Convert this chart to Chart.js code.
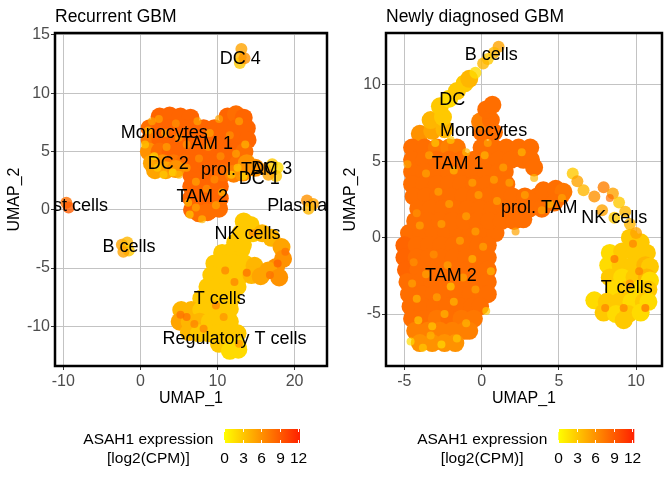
<!DOCTYPE html>
<html>
<head>
<meta charset="utf-8">
<script src="https://cdn.jsdelivr.net/npm/chart.js@4.4.0/dist/chart.umd.min.js"></script>
<style>
  body { margin: 0; background: #fff; }
  #wrap { position: relative; width: 672px; height: 480px; }
  canvas { position: absolute; top: 0; }
</style>
</head>
<body>
<div id="wrap">
  <canvas id="recCanvas" width="336" height="480" style="left:0"></canvas>
  <canvas id="newCanvas" width="336" height="480" style="left:336px"></canvas>
</div>
<script>
const FONT = '"Liberation Sans", Arial, sans-serif';

// ---- Recurrent GBM : cells as [UMAP_1, UMAP_2, ASAH1 log2(CPM)] ----
const recMain = [
  [2.5,8.0,8.5],[3.8,8.1,8.5],[5.2,8.0,8.5],[6.5,7.9,8.5],[11.3,8.0,8.5],[12.4,8.2,8],[13.4,7.9,8.5],
  [1.2,7.0,8],[2.6,7.0,8.5],[4.0,7.0,8.5],[5.4,7.0,8.5],[6.8,7.0,8.5],[8.2,7.0,8.5],[9.6,7.0,8.5],[11.0,7.0,8.5],[12.4,7.0,8.5],[13.8,7.0,8.5],
  [1.2,6.0,7.5],[2.6,6.0,8.5],[4.0,6.0,8.5],[5.4,6.0,8.5],[6.8,6.0,8.5],[8.2,6.0,8.5],[9.6,6.0,8.5],[11.0,6.0,8.5],[12.4,6.0,8.5],[13.9,6.0,8.5],
  [1.1,5.0,6],[2.5,5.0,8],[3.9,5.0,8.5],[5.3,5.0,8.5],[6.7,5.0,8.5],[8.1,5.0,8.5],[9.5,5.0,8.5],[10.9,5.0,8.5],[12.3,5.0,8.5],[13.5,5.0,8],
  [1.5,4.0,5],[2.9,4.0,6],[4.3,4.0,7.5],[5.7,4.0,8],[7.1,4.0,8.5],[8.5,4.0,8.5],[9.9,4.0,8.5],[11.3,4.0,8.5],[12.7,4.0,8],[13.8,4.0,6],
  [1.9,3.4,5],[3.3,3.4,5],[4.6,3.5,6],[10.8,3.2,8],[12.1,3.1,7],[13.3,3.2,6],[14.9,3.6,6]
];
const recTam2 = [
  [6.6,3.0,8.5],[7.9,3.0,8.5],[9.2,3.0,8.5],[10.3,2.8,8.5],
  [6.6,2.0,8.5],[7.9,2.0,8.5],[9.2,2.0,8.5],[10.3,2.0,8.5],
  [6.6,1.0,8.5],[7.9,1.0,8.5],[9.2,1.0,8.5],[10.3,1.0,8.5],
  [6.7,0.0,8.5],[7.9,0.0,8.5],[9.1,0.0,8.5],[10.2,0.1,8],
  [7.6,-0.3,8],[8.7,-0.2,8]
];
const recNk = [
  [13.4,-1.0,3],[14.3,-1.3,3],[13.0,-2.0,3],[14.6,-2.0,3],[15.8,-2.0,4],[17.0,-2.4,4],
  [12.3,-2.8,3],[13.3,-3.0,3],[18.3,-3.2,5],[18.5,-4.2,6],[17.6,-4.9,6],[16.6,-5.2,5],[18.0,-5.8,6]
];
const recT = [
  [10.6,-3.7,3],[11.9,-3.5,3],[13.1,-3.4,3],
  [9.6,-4.6,3],[10.9,-4.6,3],[12.2,-4.6,3],[13.5,-4.6,3],[14.8,-4.8,4],
  [9.2,-5.6,3],[10.5,-5.6,3],[11.8,-5.6,3],[13.1,-5.6,3],[14.4,-5.6,4],[15.6,-5.7,5],
  [8.7,-6.6,3],[10.0,-6.6,3],[11.3,-6.6,3],[12.6,-6.6,3],
  [7.9,-7.6,3],[9.2,-7.6,3],[10.5,-7.6,3],[11.8,-7.6,3],
  [5.3,-8.6,4],[6.6,-8.6,4],[7.9,-8.6,3],[9.2,-8.6,3],[10.5,-8.6,3],[11.6,-8.5,3],
  [5.1,-9.6,5],[6.4,-9.6,4],[7.7,-9.6,4],[9.0,-9.6,3],[10.3,-9.6,3],[11.6,-9.6,3],
  [6.3,-10.5,4],[7.6,-10.6,3],[8.9,-10.6,3],[10.2,-10.6,3],[11.5,-10.6,3],[12.6,-10.6,3],
  [10.2,-11.5,3],[11.4,-11.6,3],[12.6,-11.7,2],[11.6,-12.1,2],[12.7,-12.0,2]
];
const recSmall = [
  [16.2,3.5,6],[17.1,3.9,3],[17.8,3.6,2],[17.6,2.9,3],[16.6,3.0,5],
  [13.1,13.8,5],[13.0,13.1,4],[12.9,12.6,3],[13.5,13.0,6],
  [-9.6,0.6,8],[-9.3,0.2,9],
  [-2.4,-3.0,5],[-1.7,-2.8,4],[-1.5,-3.5,3],[-2.2,-3.6,5],
  [21.6,0.8,6],[22.4,0.5,5],[21.8,0.1,4]
];
// single cells standing out from the blobs
const recSpots = [
  [1.0,6.8,4],[0.6,5.6,3],[1.8,4.6,2],[3.0,3.0,3],[4.2,3.2,2],[2.2,3.6,3],[5.0,3.0,4],[1.5,7.6,5],
  [3.2,6.6,5],[6.0,5.6,6],[9.0,6.6,5],[12.8,7.6,5],[13.6,5.6,4],[11.8,3.0,3],[13.4,2.9,2],[12.6,3.6,3],
  [6.2,0.6,4],[6.4,-0.4,3],[8.0,-0.8,4],[9.8,0.4,5],[7.2,2.4,5],[10.6,1.5,4],
  [2.4,7.8,5],[4.6,7.4,6],[7.4,7.6,5],[10.2,7.8,5],[11.6,6.4,6],[8.8,5.4,6],[5.0,6.2,6],[3.4,5.4,5],
  [7.6,4.4,6],[10.4,4.6,6],[12.4,4.8,5],[6.0,3.6,5],[8.6,1.8,6],[7.2,0.2,5],[9.6,2.6,6],
  [13.8,-5.4,8],[12.2,-6.2,7],[9.8,-8.2,7],[6.0,-9.2,8],[8.2,-10.2,7],[17.8,-4.6,9],
  [11.0,-5.2,7],[5.2,-9.0,8],[12.8,-11.5,6],[14.6,-2.0,7],[18.8,-3.6,8],[16.8,-5.6,8],[7.0,-9.8,7],[10.8,-9.2,6]
];
const recLabelText = ['DC 4','Monocytes','TAM 1','DC 2','prol. TAM','DC 3','DC 1','TAM 2','Mast cells','Plasma cells','B cells','NK cells','T cells','Regulatory T cells'];
const recLabelX = [12.96, 3.1, 8.66, 3.63, 12.83, 17.03, 15.42, 8.02, -9.4, 23.0, -1.48, 13.9, 10.3, 12.2];
const recLabelY = [12.9, 6.55, 5.63, 3.9, 3.39, 3.47, 2.67, 1.09, 0.3, 0.3, -3.2, -2.07, -7.67, -11.1];
const recTicksX = [-10, 0, 10, 20];
const recTicksY = [-10, -5, 0, 5, 10, 15];

// ---- Newly diagnosed GBM ----
const newTam1 = [
  [-4.5,5.9,8],[-3.7,5.9,8],[-2.9,5.9,7.5],[-2.1,5.9,7],[-1.6,5.9,7.5],[0.0,5.9,8],[0.8,5.9,8],[1.6,5.9,8],[2.4,5.9,8],[3.15,5.9,8],
  [-4.5,5.1,8],[-3.7,5.1,8],[-2.9,5.1,8],[-2.1,5.1,8],[-1.3,5.1,8],[-0.5,5.1,8],[0.3,5.1,8],[1.1,5.1,8],[1.9,5.1,8],[2.7,5.1,8],[3.2,5.1,8],
  [-4.5,4.3,8],[-3.7,4.3,8],[-2.9,4.3,8],[-2.1,4.3,8],[-1.3,4.3,8],[-0.5,4.3,8],[0.3,4.3,8],[1.1,4.3,8],[1.5,4.3,8],[3.4,4.6,8],
  [-4.5,3.5,8],[-3.7,3.5,8],[-2.9,3.5,8],[-2.1,3.5,8],[-1.3,3.5,8],[-0.5,3.5,8],[0.3,3.5,8],[1.1,3.5,8],[1.6,3.5,8],
  [-4.4,2.7,8],[-3.6,2.7,8],[-2.8,2.7,8],[-2.0,2.7,8],[-1.2,2.7,8],[-0.4,2.7,8],[0.4,2.7,8],[1.2,2.7,8],[2.0,2.7,8],[2.8,2.7,8],[3.6,2.7,8],[4.4,2.7,8],[5.1,2.7,8],
  [4.0,3.1,8],[4.8,3.2,8],[5.3,3.0,7.5],
  [-4.1,1.9,8],[-3.3,1.9,8],[-2.5,1.9,8],[-1.7,1.9,8],[-0.9,1.9,8],[-0.1,1.9,8],[0.7,1.9,8],[1.5,1.9,8],[2.3,1.9,8],[3.1,1.9,8],[3.9,1.9,8],[4.7,2.3,8],
  [-4.3,1.1,8],[-3.5,1.1,8],[-2.7,1.1,8],[-1.9,1.1,8],[-1.1,1.1,8],[-0.3,1.1,8],[0.5,1.1,8],[1.3,1.1,8],[2.1,1.1,8],[2.7,1.2,8]
];
const newTam2 = [
  [-4.7,0.3,8],[-3.9,0.3,8],[-3.1,0.3,8],[-2.3,0.3,8],[-1.5,0.3,8],[-0.7,0.3,8],[0.1,0.3,8],[0.9,0.3,8],
  [-5.0,-0.5,8.5],[-4.2,-0.5,8],[-3.4,-0.5,8],[-2.6,-0.5,8],[-1.8,-0.5,8],[-1.0,-0.5,8],[-0.2,-0.5,8],[0.4,-0.5,8],
  [-5.0,-1.3,8.5],[-4.2,-1.3,8],[-3.4,-1.3,8],[-2.6,-1.3,8],[-1.8,-1.3,8],[-1.0,-1.3,8],[-0.2,-1.3,8],[0.4,-1.3,8],
  [-4.9,-2.1,8.5],[-4.1,-2.1,8],[-3.3,-2.1,8],[-2.5,-2.1,8],[-1.7,-2.1,8],[-0.9,-2.1,8],[-0.1,-2.1,8],[0.4,-2.1,8],
  [-4.8,-2.9,8],[-4.0,-2.9,8],[-3.2,-2.9,8],[-2.4,-2.9,8],[-1.6,-2.9,8],[-0.8,-2.9,8],[0.0,-2.9,8],[0.4,-2.9,8],
  [-4.7,-3.7,8],[-3.9,-3.7,8],[-3.1,-3.7,8],[-2.3,-3.7,8],[-1.5,-3.7,8],[-0.7,-3.7,8],[0.1,-3.7,8],[0.4,-3.7,8],
  [-4.6,-4.5,8],[-3.8,-4.5,8],[-3.0,-4.5,8],[-2.2,-4.5,8],[-1.4,-4.5,8],[-0.6,-4.5,8],[-0.1,-4.5,8],
  [-4.5,-5.3,8],[-3.7,-5.3,8],[-2.9,-5.3,7.5],[-2.1,-5.3,8],[-1.3,-5.3,7.5],[-0.5,-5.3,7.5],
  [-4.3,-6.1,7],[-3.5,-6.1,7],[-2.7,-6.1,7],[-1.9,-6.1,7],[-1.1,-6.1,7],[-0.8,-6.1,7],
  [-4.0,-6.9,6],[-3.2,-6.9,6],[-2.4,-6.9,6],[-1.7,-6.9,6]
];
const newArms = [
  [-4.0,6.8,6],[-3.2,7.0,5],[-2.4,7.1,4],[-3.3,7.7,4],[-2.5,7.9,3],[-2.7,8.6,3],[-2.1,9.1,2],[-1.6,9.6,3],[-1.1,10.1,3],[-0.8,10.4,4],
  [0.0,6.9,8],[0.8,6.9,8],[-0.1,7.6,7],[0.6,7.7,8],[0.3,8.4,8],[0.7,8.7,8]
];
const newT = [
  [9.6,0.0,3],[10.3,-0.3,3],
  [8.3,-1.0,2],[9.1,-0.9,3],[9.9,-1.0,3],[10.7,-1.0,3],
  [8.2,-1.8,2],[9.0,-1.8,3],[9.8,-1.8,3],[10.6,-1.8,4],[10.9,-1.9,3],
  [8.3,-2.6,3],[9.1,-2.6,2],[9.9,-2.6,3],[10.7,-2.6,4],[10.9,-2.8,2],
  [8.6,-3.4,2],[9.4,-3.4,3],[10.2,-3.4,2],[10.8,-3.4,3],
  [7.3,-4.1,2],[8.1,-4.2,3],[8.9,-4.2,3],[9.7,-4.2,2],[10.5,-4.2,3],[10.8,-4.2,2],
  [7.9,-4.9,3],[8.7,-5.0,2],[9.5,-5.0,3],[10.3,-4.9,2],[9.2,-5.4,3]
];
const newSmall = [
  [5.9,4.2,3],[6.2,3.7,5],[6.6,3.1,4],[7.3,2.7,6],[7.9,3.3,7],[8.5,2.9,5],[8.9,2.3,3],[9.3,1.7,4],
  [7.8,1.8,5],[8.6,1.3,3],[9.6,0.9,4],[10.0,0.3,5],
  [1.1,12.5,5],[0.8,12.1,4],[0.4,11.7,3],[0.1,11.4,4],[-0.4,10.8,2]
];
const newSpots = [
  [-4.6,-6.8,2],[-3.8,-7.2,3],[-2.6,-7.0,2],[-1.6,-6.6,3],[-3.2,-5.8,3],[-1.0,-5.6,4],[-4.2,-4.0,4],[-2.0,-3.2,3],
  [-0.6,-1.4,4],[-3.6,-2.4,5],[-4.8,4.8,5],[-3.0,6.2,3],[-2.0,6.4,3],[-1.0,5.6,4],[0.8,3.8,5],[2.6,5.6,4],
  [1.4,4.6,5],[-2.8,3.0,5],[-1.0,1.4,5],[2.2,0.4,5],[4.4,2.2,4],[5.2,2.6,5],[0.3,-4.8,3],[-4.0,0.8,5],[3.4,3.9,4],
  [-2.4,-5.0,4],[-0.4,-3.4,5],[-4.4,-1.6,6],[-1.4,-0.2,5],[0.6,-2.2,4],
  [-3.3,-6.4,4],[-4.1,-5.4,3],[-1.8,-4.2,4],[-2.9,-3.9,5],[-4.5,-3.0,5],[-1.2,-2.6,5],[-3.1,-1.1,6],[-2.2,-1.8,5],
  [0.1,-0.6,5],[-4.2,1.6,6],[-2.1,2.2,5],[-0.2,2.8,5],[1.0,2.4,5],[2.8,2.8,5],[3.9,1.8,5],[-3.6,4.2,5],
  [-1.8,4.4,4],[0.2,5.4,4],[1.8,3.6,5],[-3.4,5.4,5],[0.4,6.2,5],[-0.6,3.6,5],[-2.6,0.9,5],[-0.4,0.4,5],
  [8.6,-1.4,8],[10.2,-2.2,7],[9.2,-4.6,7],[8.0,-4.6,7],[10.6,-4.6,8],[9.6,-3.0,6],[8.3,2.6,8],[9.8,-0.4,7]
];
const newLabelText = ['B cells','DC','Monocytes','TAM 1','prol. TAM','NK cells','TAM 2','T cells'];
const newLabelX = [0.62, -1.9, 0.13, -1.55, 3.73, 8.59, -1.99, 9.39];
const newLabelY = [11.94, 9.04, 7.0, 4.83, 1.94, 1.29, -2.49, -3.3];
const newTicksX = [-5, 0, 5, 10];
const newTicksY = [-5, 0, 5, 10];

const legendTicks = [0, 3, 6, 9, 12];
const EXPR_MAX = 12.3;

function exprColor(v, a) {
  const t = Math.max(0, Math.min(1, v / EXPR_MAX));
  const g = Math.round(255 - 223 * t);
  return `rgba(255,${g},0,${a})`;
}

// order: higher numbers are painted first, so spots (order 0) land on top
function cellSet(cells, r, alpha, order) {
  return {
    data: cells.map(c => ({ x: c[0], y: c[1] })),
    pointRadius: r,
    pointBorderWidth: 0,
    pointBackgroundColor: cells.map(c => exprColor(c[2], alpha)),
    order: order,
    clip: 0
  };
}

const decor = {
  id: 'decor',
  afterDatasetsDraw(chart, args, o) {
    const ctx = chart.ctx, a = chart.chartArea;
    const xs = chart.scales.x, ys = chart.scales.y;
    // cluster labels, clipped to the panel
    ctx.save();
    ctx.beginPath();
    ctx.rect(a.left, a.top, a.right - a.left, a.bottom - a.top);
    ctx.clip();
    ctx.font = '18px ' + FONT;
    ctx.fillStyle = '#000';
    ctx.textAlign = 'center';
    ctx.textBaseline = 'middle';
    o.labels.forEach((t, i) => {
      ctx.fillText(t, xs.getPixelForValue(o.labelX[i]), ys.getPixelForValue(o.labelY[i]));
    });
    ctx.restore();
  },
  afterDraw(chart, args, o) {
    const ctx = chart.ctx, a = chart.chartArea;
    ctx.save();
    ctx.strokeStyle = '#000';
    ctx.lineWidth = 2.5;
    ctx.strokeRect(a.left, a.top, a.right - a.left, a.bottom - a.top);

    ctx.fillStyle = '#000';
    ctx.font = '17.5px ' + FONT;
    ctx.textAlign = 'left';
    ctx.textBaseline = 'middle';
    ctx.fillText(o.title, a.left, 17);

    // colour bar legend
    ctx.font = '15.5px ' + FONT;
    ctx.textAlign = 'center';
    ctx.fillText('ASAH1 expression', o.legendTextX, 440);
    ctx.fillText('[log2(CPM)]', o.legendTextX, 458.5);
    const bx = o.barLeft, bw = 76, by = 429, bh = 14;
    const grad = ctx.createLinearGradient(bx, 0, bx + bw, 0);
    grad.addColorStop(0, exprColor(0, 1));
    grad.addColorStop(1, exprColor(EXPR_MAX, 1));
    ctx.fillStyle = grad;
    ctx.fillRect(bx, by, bw, bh);
    ctx.strokeStyle = '#fff';
    ctx.lineWidth = 1;
    ctx.fillStyle = '#000';
    legendTicks.forEach(v => {
      const px = Math.round(bx + v / EXPR_MAX * bw) + 0.5;
      ctx.beginPath();
      ctx.moveTo(px, by); ctx.lineTo(px, by + 3);
      ctx.moveTo(px, by + bh - 3); ctx.lineTo(px, by + bh);
      ctx.stroke();
      ctx.fillText(String(v), px, 458.5);
    });
    ctx.restore();
  }
};

function axis(min, max, ticks, title, vertical, size) {
  return {
    type: 'linear',
    min: min,
    max: max,
    afterBuildTicks: s => { s.ticks = ticks.map(v => ({ value: v })); },
    afterFit: s => { if (vertical) s.width = size; else s.height = size; },
    grid: { color: '#c3c3c3', lineWidth: 1, drawTicks: true, tickLength: 4, tickColor: '#333', tickWidth: 1 },
    border: { display: false },
    ticks: { color: '#4d4d4d', font: { size: 16, family: FONT }, padding: vertical ? 1 : 2, maxRotation: 0, autoSkip: false },
    title: { display: true, text: title, color: '#000', font: { size: 16, family: FONT }, padding: 0 }
  };
}

function panel(id, cfg) {
  new Chart(document.getElementById(id), {
    type: 'scatter',
    data: { datasets: cfg.sets },
    options: {
      responsive: false,
      animation: false,
      devicePixelRatio: 1,
      events: [],
      layout: { padding: { left: 5.4, right: cfg.padRight, top: 33, bottom: 72 } },
      scales: {
        x: axis(cfg.xMin, cfg.xMax, cfg.ticksX, 'UMAP_1', false, 42),
        y: axis(cfg.yMin, cfg.yMax, cfg.ticksY, 'UMAP_2', true, cfg.yWidth)
      },
      plugins: {
        legend: { display: false },
        tooltip: { enabled: false },
        decor: {
          title: cfg.title, labels: cfg.labels, labelX: cfg.labelX, labelY: cfg.labelY,
          legendTextX: cfg.legendTextX, barLeft: cfg.barLeft
        }
      }
    },
    plugins: [decor]
  });
}

panel('recCanvas', {
  title: 'Recurrent GBM',
  sets: [
    cellSet(recMain, 9, 1, 2), cellSet(recTam2, 9, 1, 2), cellSet(recNk, 9, 1, 2), cellSet(recT, 9, 1, 2),
    cellSet(recSmall, 6, 0.8, 1), cellSet(recSpots, 4, 0.7, 0)
  ],
  xMin: -11.07, xMax: 24.2, yMin: -13.4, yMax: 15.17,
  ticksX: recTicksX, ticksY: recTicksY,
  padRight: 7, yWidth: 49.6,
  labels: recLabelText, labelX: recLabelX, labelY: recLabelY,
  legendTextX: 148.4, barLeft: 224
});

panel('newCanvas', {
  title: 'Newly diagnosed GBM',
  sets: [
    cellSet(newTam1, 9, 1, 2), cellSet(newTam2, 9, 1, 2), cellSet(newArms, 9, 1, 2), cellSet(newT, 9, 1, 2),
    cellSet(newSmall, 6, 0.8, 1), cellSet(newSpots, 4, 0.7, 0)
  ],
  xMin: -6.19, xMax: 11.68, yMin: -8.4, yMax: 13.4,
  ticksX: newTicksX, ticksY: newTicksY,
  padRight: 10, yWidth: 44.6,
  labels: newLabelText, labelX: newLabelX, labelY: newLabelY,
  legendTextX: 146.2, barLeft: 222.3
});
</script>
</body>
</html>
